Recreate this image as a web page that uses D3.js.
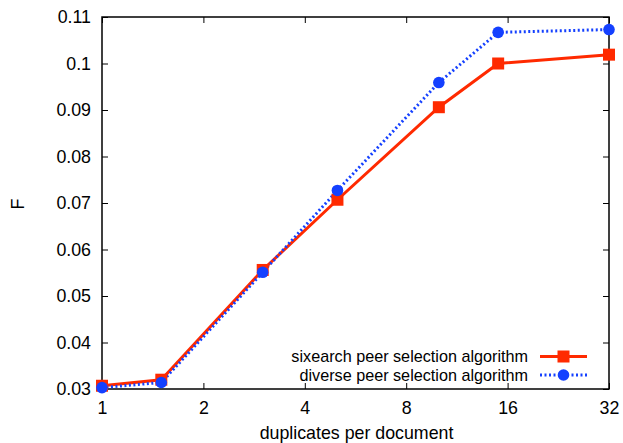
<!DOCTYPE html>
<html>
<head>
<meta charset="utf-8">
<script src="https://cdn.jsdelivr.net/npm/d3@7"></script>
<style>
  body { margin: 0; background: #fff; }
  text { font-family: "Liberation Sans", Arial, sans-serif; font-size: 17.8px; fill: #000; }
</style>
</head>
<body>
<div id="chart"></div>
<script>
// Data
const duplicates = [1, 1.5, 3, 5, 10, 15, 32];
const sixearchF = [0.0307, 0.0320, 0.0556, 0.0707, 0.0906, 0.1000, 0.1019];
const diverseF = [0.0303, 0.0314, 0.0551, 0.0727, 0.0959, 0.1067, 0.1073];
const xTicks = [1, 2, 4, 8, 16, 32];
const yTicks = [0.03, 0.04, 0.05, 0.06, 0.07, 0.08, 0.09, 0.1, 0.11];
const seriesNames = ["sixearch peer selection algorithm", "diverse peer selection algorithm"];

const w = 623, h = 443;
const margin = { left: 102, right: 14, top: 17, bottom: 54 };
const red = "#ff2a00", blue = "#1440ff";
const fontSize = "17.8px";

const svg = d3.select("#chart")
  .append("svg")
  .attr("width", w)
  .attr("height", h);

// Scales (log base 2 on x)
const xScale = d3.scaleLog().base(2)
  .domain([1, 32])
  .range([margin.left, w - margin.right]);
const yScale = d3.scaleLinear()
  .domain([0.03, 0.11])
  .range([h - margin.bottom, margin.top]);

const fmt = d => String(+d.toFixed(2));

// Axes with inward ticks, mirrored on top/right
const tick = 6;
svg.append("g")
  .attr("transform", "translate(0," + (h - margin.bottom) + ")")
  .call(d3.axisBottom(xScale).tickValues(xTicks).tickFormat(d => d).tickSizeInner(-tick).tickSizeOuter(0).tickPadding(12))
  .call(g => g.select(".domain").remove());
svg.append("g")
  .attr("transform", "translate(0," + margin.top + ")")
  .call(d3.axisTop(xScale).tickValues(xTicks).tickFormat("").tickSizeInner(-tick).tickSizeOuter(0))
  .call(g => g.select(".domain").remove());
svg.append("g")
  .attr("transform", "translate(" + margin.left + ",0)")
  .call(d3.axisLeft(yScale).tickValues(yTicks).tickFormat(fmt).tickSizeInner(-tick).tickSizeOuter(0).tickPadding(11))
  .call(g => g.select(".domain").remove());
svg.append("g")
  .attr("transform", "translate(" + (w - margin.right) + ",0)")
  .call(d3.axisRight(yScale).tickValues(yTicks).tickFormat("").tickSizeInner(-tick).tickSizeOuter(0))
  .call(g => g.select(".domain").remove());

svg.selectAll(".tick line").attr("stroke", "#000").attr("stroke-width", 1);
svg.selectAll(".tick text")
  .style("font-family", "'Liberation Sans', Arial, sans-serif")
  .style("font-size", fontSize)
  .attr("fill", "#000");

// Frame
svg.append("rect")
  .attr("x", margin.left)
  .attr("y", margin.top)
  .attr("width", w - margin.left - margin.right)
  .attr("height", h - margin.top - margin.bottom)
  .attr("fill", "none")
  .attr("stroke", "#000")
  .attr("stroke-width", 1.5);

// Axis labels
svg.append("text")
  .attr("x", (margin.left + w - margin.right) / 2 + 1)
  .attr("y", 439)
  .attr("text-anchor", "middle")
  .text("duplicates per document");

svg.append("text")
  .attr("transform", "translate(24," + 204 + ") rotate(-90)")
  .attr("text-anchor", "middle")
  .text("F");

// Lines
const line = vals => d3.line()
  .x((d, i) => xScale(duplicates[i]))
  .y(d => yScale(d))(vals);

svg.append("path")
  .attr("d", line(sixearchF))
  .attr("fill", "none")
  .attr("stroke", red)
  .attr("stroke-width", 3);

svg.append("path")
  .attr("d", line(diverseF))
  .attr("fill", "none")
  .attr("stroke", blue)
  .attr("stroke-width", 3)
  .attr("stroke-dasharray", "2,2.5");

// Markers
const sq = 12, r = 5.8;
svg.selectAll(".sq")
  .data(sixearchF)
  .enter()
  .append("rect")
  .attr("x", (d, i) => xScale(duplicates[i]) - sq / 2)
  .attr("y", d => yScale(d) - sq / 2)
  .attr("width", sq)
  .attr("height", sq)
  .attr("fill", red);

svg.selectAll(".dot")
  .data(diverseF)
  .enter()
  .append("circle")
  .attr("cx", (d, i) => xScale(duplicates[i]))
  .attr("cy", d => yScale(d))
  .attr("r", r)
  .attr("fill", blue);

// Legend
const lx = 528, lineX1 = 540, lineX2 = 587;
const legendY = [356.5, 375];
const colors = [red, blue];
seriesNames.forEach((name, i) => {
  svg.append("text")
    .attr("x", lx)
    .attr("y", legendY[i] + 5.5)
    .attr("text-anchor", "end")
    .style("font-size", "16.2px")
    .text(name);
  svg.append("line")
    .attr("x1", lineX1)
    .attr("x2", lineX2)
    .attr("y1", legendY[i])
    .attr("y2", legendY[i])
    .attr("stroke", colors[i])
    .attr("stroke-width", 3)
    .attr("stroke-dasharray", i == 1 ? "2,2.5" : null);
  const mx = (lineX1 + lineX2) / 2;
  if (i == 0) {
    svg.append("rect")
      .attr("x", mx - sq / 2)
      .attr("y", legendY[i] - sq / 2)
      .attr("width", sq)
      .attr("height", sq)
      .attr("fill", red);
  } else {
    svg.append("circle")
      .attr("cx", mx)
      .attr("cy", legendY[i])
      .attr("r", r)
      .attr("fill", blue);
  }
});
</script>
</body>
</html>
